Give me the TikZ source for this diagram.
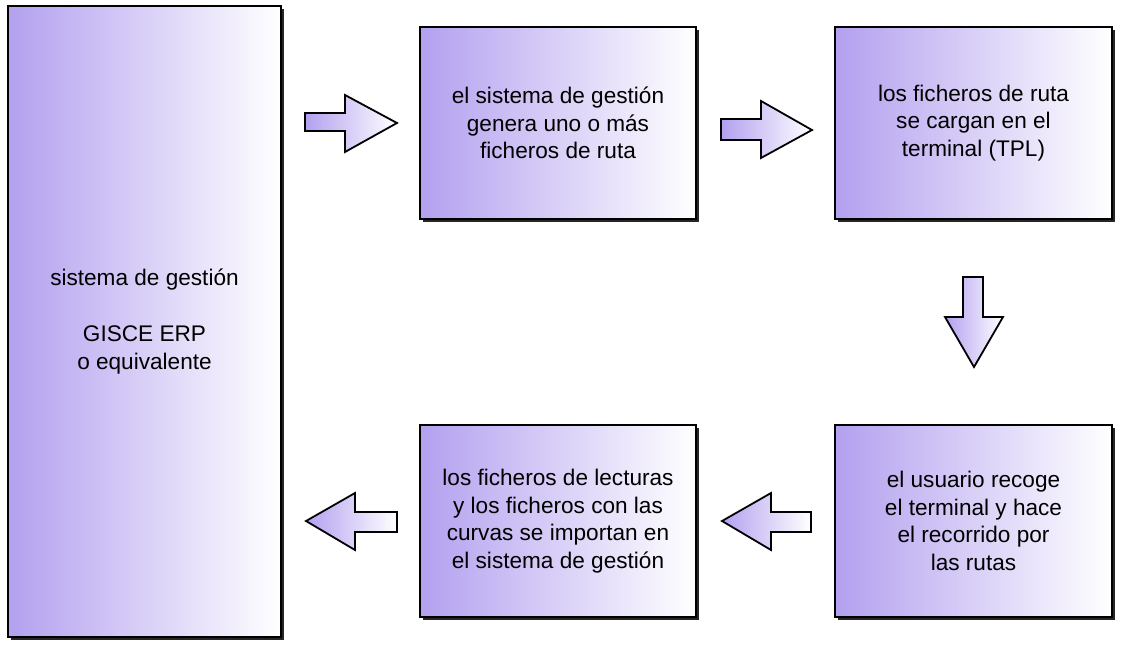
\documentclass[tikz,border=0pt]{standalone}
\usepackage{fontspec}
\setmainfont{Liberation Sans}
\usetikzlibrary{shadows}
\definecolor{lav}{HTML}{B3A0EF}
\tikzset{
  box/.style={draw=black, line width=2.4pt, rectangle, left color=lav, right color=white,
    align=center, inner sep=0pt, font=\fontsize{22.6}{27.7}\selectfont,
    drop shadow={shadow xshift=3pt, shadow yshift=-3pt, fill=black!85, opacity=1}},
  arr/.style={draw=black, line width=1.8pt, line join=miter, left color=lav, right color=white}
}
\begin{document}
\begin{tikzpicture}[x=1pt,y=-1pt]
\useasboundingbox (0,0) rectangle (1122,648);
\node[box, minimum width=273pt, minimum height=631pt] (erp) at (144.5,321.5)
  {sistema de gestión\\[27.7pt]GISCE ERP\\o equivalente};
\node[box, minimum width=276pt, minimum height=192pt] (gen) at (558,123)
  {el sistema de gestión\\genera uno o más\\ficheros de ruta};
\node[box, minimum width=277pt, minimum height=192pt] (carga) at (973.5,123)
  {los ficheros de ruta\\se cargan en el\\terminal (TPL)};
\node[box, minimum width=277pt, minimum height=192pt] (usr) at (973.5,521)
  {el usuario recoge\\el terminal y hace\\el recorrido por\\las rutas};
\node[box, minimum width=276pt, minimum height=192pt] (imp) at (558,521)
  {los ficheros de lecturas\\y los ficheros con las\\curvas se importan en\\el sistema de gestión};
% arrows
\path[arr] (305,113) -- (345,113) -- (345,95) -- (397,123) -- (345,152) -- (345,131) -- (305,131) -- cycle;
\path[arr] (721,119) -- (761,119) -- (761,101) -- (812,130) -- (761,158) -- (761,140) -- (721,140) -- cycle;
\path[arr] (963,277) -- (983,277) -- (983,317) -- (1003,317) -- (974,367) -- (945,317) -- (963,317) -- cycle;
\path[arr] (811,512) -- (771,512) -- (771,493) -- (722,521) -- (771,550) -- (771,532) -- (811,532) -- cycle;
\path[arr] (397,512) -- (355,512) -- (355,493) -- (306,521) -- (355,550) -- (355,532) -- (397,532) -- cycle;
\end{tikzpicture}
\end{document}
